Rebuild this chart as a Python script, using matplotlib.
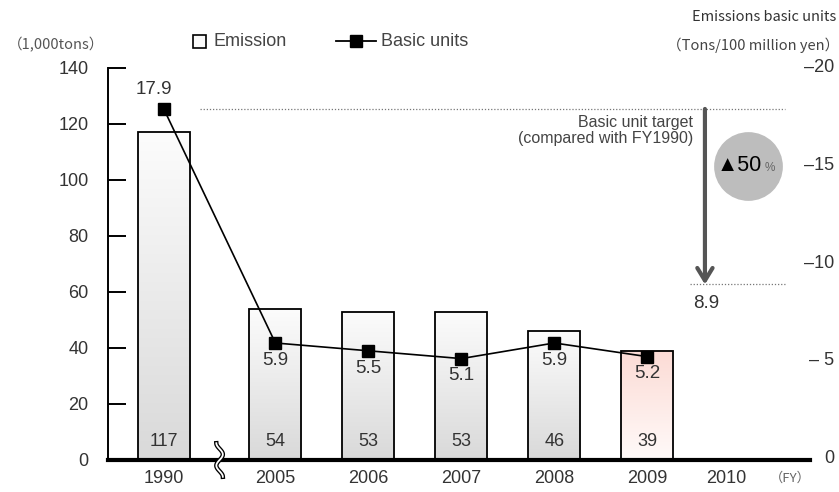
import numpy as np
import matplotlib
matplotlib.use("Agg")
import matplotlib.pyplot as plt
from matplotlib.lines import Line2D
from matplotlib.patches import Rectangle
from matplotlib.colors import LinearSegmentedColormap
import matplotlib.transforms as mtransforms

# ------------------------------------------------------------
# Data
# ------------------------------------------------------------
years = ["1990", "2005", "2006", "2007", "2008", "2009", "2010"]
emission = [117, 54, 53, 53, 46, 39]          # 1,000 tons
basic_units = [17.9, 5.9, 5.5, 5.1, 5.9, 5.2]  # tons / 100 million yen
target_from = 17.9
target_to = 8.9
target_cut = "▲50"

# positions: 1990 set apart by the axis break
xpos = np.array([0.0, 1.2, 2.2, 3.2, 4.2, 5.2, 6.05])

plt.rcParams['font.family'] = ['Liberation Sans', 'DejaVu Sans']
TXT = "#333333"

fig = plt.figure(figsize=(8.39, 4.92), dpi=100)
ax = fig.add_axes([108/839, 1 - 460/492, 702/839, 392/492])
ax2 = ax.twinx()

ax.set_xlim(-0.6, 6.95)
ax.set_ylim(0, 140)
ax2.set_ylim(-0.1, 20)

# ------------------------------------------------------------
# Bars with vertical gradient
# ------------------------------------------------------------
gray_cmap = LinearSegmentedColormap.from_list("g", ["#d9d9d9", "#fcfcfc"])
pink_cmap = LinearSegmentedColormap.from_list("p", ["#fffaf9", "#fcdbd5"])
grad = np.linspace(0, 1, 256).reshape(-1, 1)
width = 0.56
for i, h in enumerate(emission):
    x0 = xpos[i] - width / 2
    cmap = pink_cmap if years[i] == "2009" else gray_cmap
    ax.imshow(grad, extent=[x0, x0 + width, 0, h], origin="lower",
              cmap=cmap, aspect="auto", zorder=1)
    ax.add_patch(Rectangle((x0, 0), width, h, facecolor="none",
                           edgecolor="black", lw=1.3, zorder=2))
    ax.annotate(str(h), (xpos[i], 0), xytext=(0, 13), textcoords="offset points",
                ha="center", va="center", fontsize=13, color=TXT, zorder=5)

# ------------------------------------------------------------
# Basic units line
# ------------------------------------------------------------
n = len(basic_units)
ax2.plot(xpos[:n], basic_units, color="black", lw=1.2, marker="s",
         markersize=8, zorder=6)
for i, v in enumerate(basic_units):
    if i == 0:
        ax2.annotate(f"{v}", (xpos[i], v), xytext=(-7, 14), textcoords="offset points",
                     ha="center", va="center", fontsize=13.5, color=TXT)
    else:
        ax2.annotate(f"{v}", (xpos[i], v), xytext=(0, -12.5), textcoords="offset points",
                     ha="center", va="center", fontsize=13.5, color=TXT)

# ------------------------------------------------------------
# Target annotation
# ------------------------------------------------------------
ax2.hlines(target_from, 0.39, 6.68, colors="#777777", linestyles=(0, (1, 1.5)), lw=0.9)
ax2.hlines(target_to, 5.66, 6.68, colors="#777777", linestyles=(0, (1, 1.5)), lw=0.9)
arrow_x = 5.82
ax2.annotate("", xy=(arrow_x, target_to), xytext=(arrow_x, target_from),
             arrowprops=dict(arrowstyle="->,head_length=0.9,head_width=0.55",
                             color="#555555", lw=3, shrinkA=0, shrinkB=0))
ax2.annotate(f"{target_to}", (arrow_x, target_to), xytext=(1, -14),
             textcoords="offset points", ha="center", va="center",
             fontsize=13.5, color=TXT)
ax2.text(5.69, 16.8, "Basic unit target\n(compared with FY1990)", ha="right",
         va="center", fontsize=11.5, color="#444444", linespacing=1.1)
ax2.scatter([6.28], [15.0], s=2450, color="#bdbdbd", zorder=3, linewidths=0)
ax2.annotate(target_cut, (6.28, 15.0), xytext=(-6, 0), textcoords="offset points",
             ha="center", va="center", fontsize=15.5, color="black", zorder=4)
ax2.annotate("%", (6.28, 15.0), xytext=(16, -1.5), textcoords="offset points",
             ha="center", va="center", fontsize=8.5, color="#666666", zorder=4)

# ------------------------------------------------------------
# Axes styling
# ------------------------------------------------------------
for a in (ax, ax2):
    for s in ("top", "right"):
        a.spines[s].set_visible(False)
ax2.spines["left"].set_visible(False)
ax2.spines["bottom"].set_visible(False)
ax.spines["left"].set_linewidth(1.4)
ax.spines["bottom"].set_linewidth(3)
ax.spines["bottom"].set_zorder(7)

ax.set_yticks(np.arange(0, 141, 20))
ax.tick_params(axis="y", direction="in", length=13, width=1.4, labelsize=13,
               labelcolor=TXT, pad=14)
ax.set_xticks(xpos)
ax.set_xticklabels(years)
ax.tick_params(axis="x", length=0, labelsize=13, labelcolor=TXT, pad=7)

# right axis labels drawn as dash + value, no spine
ax2.set_yticks([])
rtrans = mtransforms.blended_transform_factory(ax2.transAxes, ax2.transData)
for v in [0, 5, 10, 15, 20]:
    lab = "0" if v == 0 else ("– 5" if v == 5 else f"–{v}")
    ax2.text(1.035, v, lab, transform=rtrans, ha="right", va="center",
             fontsize=13, color=TXT)

# axis break mark between 1990 and 2005
tt = np.linspace(-1, 1, 60)
bx = 0.6 + 0.035 * np.sin(tt * np.pi * 1.5)
by = tt * 6
ax.plot(bx, by, color="black", lw=3.2, zorder=8, clip_on=False)
ax.plot(bx, by, color="white", lw=1.3, zorder=9, clip_on=False)

# ------------------------------------------------------------
# Legend (drawn by hand) and unit labels
# ------------------------------------------------------------
ly = 1 - 41/492
fig.patches.append(Rectangle((193/839, 1 - 48/492), 13/839, 13/492,
                             transform=fig.transFigure, facecolor="#fafafa",
                             edgecolor="black", lw=1.2))
fig.text(213/839, ly, "Emission", ha="left", va="center", fontsize=13,
         color="#444444")
fig.lines.append(Line2D([336/839, 376/839], [ly, ly], transform=fig.transFigure,
                        color="black", lw=1.3))
fig.lines.append(Line2D([356/839], [ly], transform=fig.transFigure, color="black",
                        marker="s", markersize=8, lw=0))
fig.text(381/839, ly, "Basic units", ha="left", va="center", fontsize=13,
         color="#444444")

cjk = ['Noto Sans CJK JP', 'DejaVu Sans']
fig.text(8/839, 1 - 45/492, "（1,000tons）", ha="left", va="center",
         fontsize=10.5, color="#555555", family=cjk)
fig.text(836/839, 1 - 17/492, "Emissions basic units", ha="right", va="center",
         fontsize=10.5, color="#333333", family=cjk)
fig.text(839/839, 1 - 45/492, "（Tons/100 million yen）", ha="right", va="center",
         fontsize=10.5, color="#444444", family=cjk)
fig.text(790/839, 1 - 478/492, "（FY）", ha="center", va="center",
         fontsize=9.5, color="#666666", family=cjk)

fig.savefig("out.png", dpi=100)
